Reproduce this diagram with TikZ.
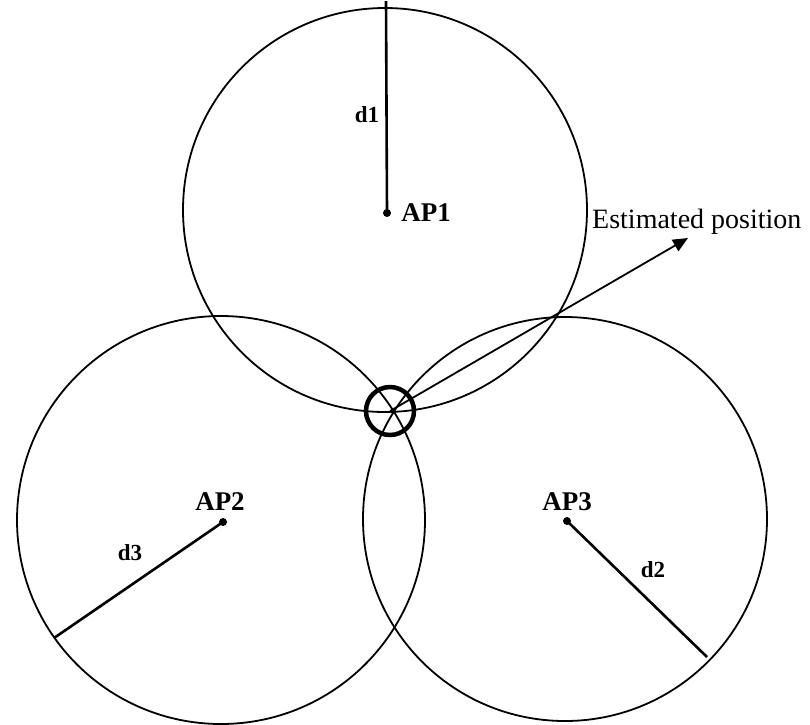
\documentclass[tikz,border=0pt]{standalone}
\usepackage{fontspec}
\setmainfont{Liberation Serif}
\usetikzlibrary{arrows.meta}
\begin{document}
\begin{tikzpicture}[x=1pt,y=-1pt,
  bigcirc/.style={circle,draw,line width=1.8pt,inner sep=0pt,minimum size=#1},
  apdot/.style={circle,fill,inner sep=0pt,minimum size=8pt},
  radline/.style={line width=2.6pt},
  aplabel/.style={font=\fontsize{27}{29}\selectfont\bfseries,inner sep=0pt},
  dlabel/.style={font=\fontsize{23}{25}\selectfont\bfseries,inner sep=0pt},
  estlabel/.style={font=\fontsize{28}{30}\selectfont,inner sep=0pt,anchor=west}]
\useasboundingbox (0,0) rectangle (810,724);
\fill[white] (0,0) rectangle (810,724);
% big circles
\node[bigcirc=404pt] (c1) at (385,210) {};
\node[bigcirc=408pt] (c2) at (221,520) {};
\node[bigcirc=404pt] (c3) at (565,519) {};
% estimated position marker
\node[circle,draw,line width=4.5pt,inner sep=0pt,minimum size=48pt] (est) at (390,411) {};
% access points
\node[apdot] (ap1) at (387,213) {};
\node[apdot] (ap2) at (223,522) {};
\node[apdot] (ap3) at (567,521) {};
\node[aplabel] (l1) at (426,213) {AP1};
\node[aplabel] (l2) at (220,502) {AP2};
\node[aplabel] (l3) at (567,502) {AP3};
% radius lines
\coordinate (r1) at (386,1);
\coordinate (r3) at (54,638);
\coordinate (r2) at (707,657);
\draw[radline] (ap1.center) -- (r1);
\draw[radline] (ap2.center) -- (r3);
\draw[radline] (ap3.center) -- (r2);
\node[dlabel] (d1) at (367,115) {d1};
\node[dlabel] (d3) at (130,553) {d3};
\node[dlabel] (d2) at (653,570) {d2};
% arrow
\coordinate (tip) at (688,238);
\draw[line width=1.8pt,-{Triangle[length=15pt,width=13pt]}] (est.center) -- (tip);
\node[estlabel] (elab) at (592,222) {Estimated position};
\end{tikzpicture}
\end{document}
